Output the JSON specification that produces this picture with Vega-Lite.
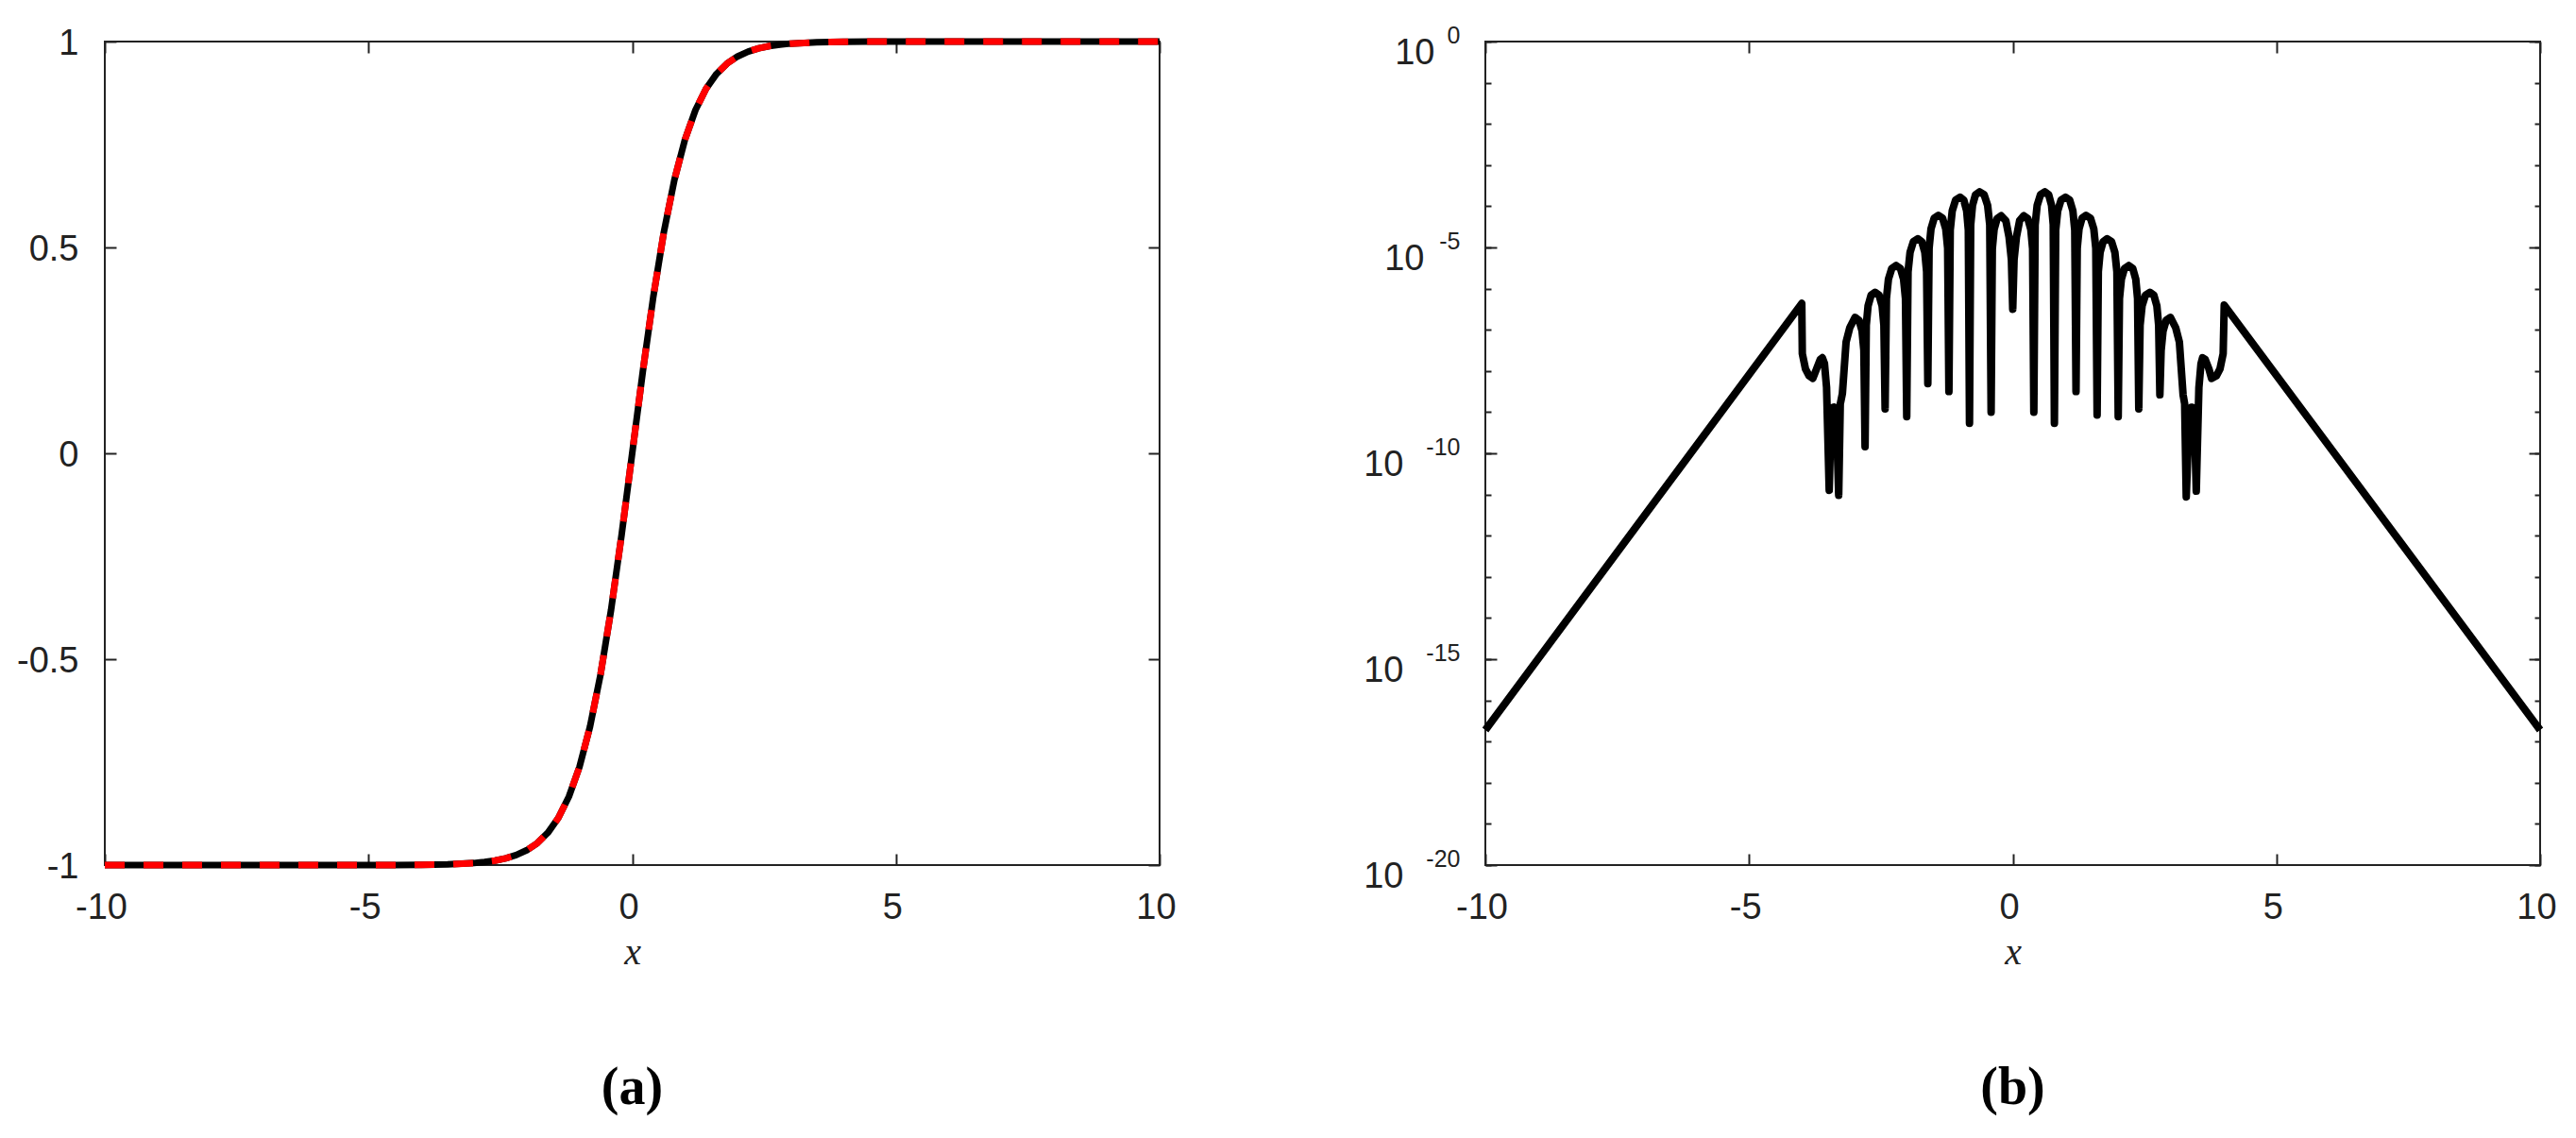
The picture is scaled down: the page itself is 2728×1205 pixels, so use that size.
{
  "$schema": "https://vega.github.io/schema/vega-lite/v6.json",
  "background": "white",
  "padding": {"left": 16, "top": 24, "right": 0, "bottom": 0},
  "bounds": "flush",
  "spacing": 345,
  "config": {
    "view": {"stroke": "#222222", "strokeWidth": 2},
    "axis": {
      "domain": false, "grid": false, "tickColor": "#222222", "tickWidth": 2,
      "labelColor": "#222222", "labelFont": "Liberation Sans", "labelFontSize": 38,
      "labelFlush": false, "labelOverlap": false, "labelBound": false,
      "titleColor": "#222222"
    }
  },
  "datasets": {
    "left": [
      {"x": -10, "y": -1.0}, {"x": -8, "y": -1.0}, {"x": -6, "y": -1.0}, {"x": -5, "y": -0.9999},
      {"x": -4.5, "y": -0.9998}, {"x": -4, "y": -0.9993}, {"x": -3.5, "y": -0.9982}, {"x": -3, "y": -0.9951},
      {"x": -2.8, "y": -0.9926}, {"x": -2.6, "y": -0.989}, {"x": -2.4, "y": -0.9837}, {"x": -2.2, "y": -0.9757},
      {"x": -2, "y": -0.964}, {"x": -1.8, "y": -0.9468}, {"x": -1.6, "y": -0.9217}, {"x": -1.4, "y": -0.8854},
      {"x": -1.2, "y": -0.8337}, {"x": -1, "y": -0.7616}, {"x": -0.8, "y": -0.664}, {"x": -0.6, "y": -0.537},
      {"x": -0.4, "y": -0.3799}, {"x": -0.2, "y": -0.1974}, {"x": 0, "y": 0},
      {"x": 0.2, "y": 0.1974}, {"x": 0.4, "y": 0.3799}, {"x": 0.6, "y": 0.537}, {"x": 0.8, "y": 0.664},
      {"x": 1, "y": 0.7616}, {"x": 1.2, "y": 0.8337}, {"x": 1.4, "y": 0.8854}, {"x": 1.6, "y": 0.9217},
      {"x": 1.8, "y": 0.9468}, {"x": 2, "y": 0.964}, {"x": 2.2, "y": 0.9757}, {"x": 2.4, "y": 0.9837},
      {"x": 2.6, "y": 0.989}, {"x": 2.8, "y": 0.9926}, {"x": 3, "y": 0.9951}, {"x": 3.5, "y": 0.9982},
      {"x": 4, "y": 0.9993}, {"x": 4.5, "y": 0.9998}, {"x": 5, "y": 0.9999}, {"x": 6, "y": 1.0},
      {"x": 8, "y": 1.0}, {"x": 10, "y": 1.0}
    ],
    "right": [
      {"x": -10, "err": 1.905e-17}, {"x": -4.0, "err": 4.365e-7}, {"x": -3.99, "err": 2.630e-8},
      {"x": -3.93, "err": 1.122e-8}, {"x": -3.86, "err": 7.586e-9}, {"x": -3.79, "err": 6.607e-9},
      {"x": -3.72, "err": 1.122e-8}, {"x": -3.65, "err": 1.905e-8}, {"x": -3.61, "err": 2.089e-8},
      {"x": -3.57, "err": 1.514e-8}, {"x": -3.53, "err": 3.981e-9}, {"x": -3.48, "err": 1.259e-11},
      {"x": -3.44, "err": 1.259e-9}, {"x": -3.39, "err": 1.318e-9}, {"x": -3.34, "err": 5.012e-10},
      {"x": -3.30, "err": 9.550e-12}, {"x": -3.27, "err": 1.585e-9}, {"x": -3.23, "err": 2.818e-9},
      {"x": -3.16, "err": 5.012e-8}, {"x": -3.09, "err": 1.122e-7}, {"x": -2.99, "err": 1.995e-7},
      {"x": -2.914, "err": 1.698e-7}, {"x": -2.857, "err": 9.333e-8}, {"x": -2.823, "err": 3.162e-8},
      {"x": -2.80, "err": 1.445e-10},
      {"x": -2.777, "err": 1.288e-7}, {"x": -2.743, "err": 3.802e-7}, {"x": -2.686, "err": 6.918e-7},
      {"x": -2.61, "err": 8.128e-7}, {"x": -2.534, "err": 6.918e-7}, {"x": -2.477, "err": 3.802e-7},
      {"x": -2.443, "err": 1.288e-7}, {"x": -2.42, "err": 1.202e-9},
      {"x": -2.395, "err": 5.754e-7}, {"x": -2.357, "err": 1.698e-6}, {"x": -2.294, "err": 3.090e-6},
      {"x": -2.21, "err": 3.631e-6}, {"x": -2.13, "err": 3.090e-6}, {"x": -2.07, "err": 1.698e-6},
      {"x": -2.034, "err": 5.754e-7}, {"x": -2.01, "err": 7.762e-10},
      {"x": -1.985, "err": 2.570e-6}, {"x": -1.947, "err": 7.586e-6}, {"x": -1.884, "err": 1.380e-5},
      {"x": -1.80, "err": 1.622e-5}, {"x": -1.724, "err": 1.380e-5}, {"x": -1.667, "err": 7.586e-6},
      {"x": -1.633, "err": 2.570e-6}, {"x": -1.61, "err": 4.898e-9},
      {"x": -1.586, "err": 9.550e-6}, {"x": -1.55, "err": 2.818e-5}, {"x": -1.49, "err": 5.129e-5},
      {"x": -1.41, "err": 6.026e-5}, {"x": -1.33, "err": 5.129e-5}, {"x": -1.27, "err": 2.818e-5},
      {"x": -1.234, "err": 9.550e-6}, {"x": -1.21, "err": 3.162e-9},
      {"x": -1.185, "err": 2.630e-5}, {"x": -1.147, "err": 7.762e-5}, {"x": -1.084, "err": 1.413e-4},
      {"x": -1.00, "err": 1.660e-4}, {"x": -0.928, "err": 1.413e-4}, {"x": -0.874, "err": 7.762e-5},
      {"x": -0.842, "err": 2.630e-5}, {"x": -0.82, "err": 5.370e-10},
      {"x": -0.797, "err": 3.548e-5}, {"x": -0.763, "err": 1.047e-4}, {"x": -0.706, "err": 1.905e-4},
      {"x": -0.63, "err": 2.239e-4}, {"x": -0.542, "err": 1.905e-4}, {"x": -0.476, "err": 1.047e-4},
      {"x": -0.436, "err": 3.548e-5}, {"x": -0.41, "err": 1.0e-9},
      {"x": -0.387, "err": 9.333e-6}, {"x": -0.353, "err": 2.754e-5}, {"x": -0.296, "err": 5.012e-5},
      {"x": -0.22, "err": 5.888e-5}, {"x": -0.13, "err": 4.467e-5}, {"x": -0.07, "err": 1.778e-5},
      {"x": -0.025, "err": 5.012e-6}, {"x": 0, "err": 3.162e-7},
      {"x": 0.025, "err": 5.012e-6}, {"x": 0.07, "err": 1.778e-5}, {"x": 0.13, "err": 4.467e-5},
      {"x": 0.21, "err": 5.888e-5}, {"x": 0.286, "err": 5.012e-5}, {"x": 0.343, "err": 2.754e-5},
      {"x": 0.377, "err": 9.333e-6}, {"x": 0.40, "err": 1.0e-9},
      {"x": 0.425, "err": 3.548e-5}, {"x": 0.463, "err": 1.047e-4}, {"x": 0.526, "err": 1.905e-4},
      {"x": 0.61, "err": 2.239e-4}, {"x": 0.682, "err": 1.905e-4}, {"x": 0.736, "err": 1.047e-4},
      {"x": 0.768, "err": 3.548e-5}, {"x": 0.79, "err": 5.370e-10},
      {"x": 0.815, "err": 2.630e-5}, {"x": 0.853, "err": 7.762e-5}, {"x": 0.916, "err": 1.413e-4},
      {"x": 1.00, "err": 1.660e-4}, {"x": 1.08, "err": 1.413e-4}, {"x": 1.14, "err": 7.762e-5},
      {"x": 1.176, "err": 2.630e-5}, {"x": 1.20, "err": 3.162e-9},
      {"x": 1.223, "err": 9.550e-6}, {"x": 1.257, "err": 2.818e-5}, {"x": 1.314, "err": 5.129e-5},
      {"x": 1.39, "err": 6.026e-5}, {"x": 1.474, "err": 5.129e-5}, {"x": 1.537, "err": 2.818e-5},
      {"x": 1.575, "err": 9.550e-6}, {"x": 1.60, "err": 8.511e-10},
      {"x": 1.623, "err": 2.570e-6}, {"x": 1.657, "err": 7.586e-6}, {"x": 1.714, "err": 1.380e-5},
      {"x": 1.79, "err": 1.622e-5}, {"x": 1.874, "err": 1.380e-5}, {"x": 1.937, "err": 7.586e-6},
      {"x": 1.975, "err": 2.570e-6}, {"x": 2.00, "err": 7.762e-10},
      {"x": 2.024, "err": 5.754e-7}, {"x": 2.06, "err": 1.698e-6}, {"x": 2.12, "err": 3.090e-6},
      {"x": 2.20, "err": 3.631e-6}, {"x": 2.276, "err": 3.090e-6}, {"x": 2.333, "err": 1.698e-6},
      {"x": 2.367, "err": 5.754e-7}, {"x": 2.39, "err": 1.202e-9},
      {"x": 2.415, "err": 1.288e-7}, {"x": 2.453, "err": 3.802e-7}, {"x": 2.516, "err": 6.918e-7},
      {"x": 2.60, "err": 8.128e-7}, {"x": 2.676, "err": 6.918e-7}, {"x": 2.733, "err": 3.802e-7},
      {"x": 2.767, "err": 1.288e-7}, {"x": 2.79, "err": 2.630e-9},
      {"x": 2.814, "err": 3.162e-8}, {"x": 2.85, "err": 9.333e-8}, {"x": 2.91, "err": 1.698e-7},
      {"x": 2.99, "err": 1.995e-7}, {"x": 3.09, "err": 1.122e-7}, {"x": 3.16, "err": 5.012e-8},
      {"x": 3.23, "err": 2.630e-9}, {"x": 3.26, "err": 1.585e-9}, {"x": 3.29, "err": 8.710e-12},
      {"x": 3.34, "err": 5.012e-10}, {"x": 3.39, "err": 1.318e-9}, {"x": 3.44, "err": 1.259e-9},
      {"x": 3.48, "err": 1.202e-11}, {"x": 3.53, "err": 3.981e-9}, {"x": 3.57, "err": 1.514e-8},
      {"x": 3.60, "err": 2.089e-8}, {"x": 3.65, "err": 1.905e-8}, {"x": 3.72, "err": 1.122e-8},
      {"x": 3.77, "err": 6.607e-9}, {"x": 3.86, "err": 7.586e-9}, {"x": 3.93, "err": 1.122e-8},
      {"x": 3.99, "err": 2.630e-8}, {"x": 4.01, "err": 3.981e-7}, {"x": 10, "err": 1.905e-17}
    ]
  },
  "hconcat": [
    {
      "width": 1117, "height": 872,
      "title": {"text": "(a)", "orient": "bottom", "anchor": "middle", "font": "Liberation Serif", "fontSize": 56, "fontWeight": "bold", "color": "black", "baseline": "alphabetic", "offset": 140},
      "data": {"name": "left"},
      "layer": [
        {
          "mark": {"type": "line", "color": "black", "strokeWidth": 7, "strokeCap": "butt", "strokeJoin": "round", "clip": false},
          "encoding": {
            "x": {"field": "x", "type": "quantitative", "scale": {"domain": [-10, 10], "nice": false},
              "axis": {"orient": "bottom", "values": [-10, -5, 0, 5, 10], "tickSize": -12, "labelPadding": 68.7, "labelBaseline": "alphabetic", "labelOffset": -4,
                "labelExpr": "datum.value < 0 ? '-' + abs(datum.value) : '' + datum.value",
                "title": "x", "titleFont": "Liberation Serif", "titleFontStyle": "italic", "titleFontWeight": "normal", "titleFontSize": 40, "titlePadding": 8}},
            "y": {"field": "y", "type": "quantitative", "scale": {"domain": [-1, 1], "nice": false},
              "axis": {"orient": "left", "values": [-1, -0.5, 0, 0.5, 1], "tickSize": -12, "labelPadding": 40, "labelBaseline": "middle", "labelOffset": 2,
                "labelExpr": "datum.value < 0 ? '-' + abs(datum.value) : '' + datum.value", "title": null}}
          }
        },
        {
          "mark": {"type": "line", "color": "#ff0000", "strokeWidth": 7, "strokeDash": [21, 20], "strokeCap": "butt", "clip": false},
          "encoding": {
            "x": {"field": "x", "type": "quantitative", "scale": {"domain": [-10, 10], "nice": false},
              "axis": {"orient": "top", "values": [-10, -5, 0, 5, 10], "tickSize": -12, "labels": false, "title": null}},
            "y": {"field": "y", "type": "quantitative", "scale": {"domain": [-1, 1], "nice": false},
              "axis": {"orient": "right", "values": [-1, -0.5, 0, 0.5, 1], "tickSize": -12, "labels": false, "title": null}}
          }
        }
      ],
      "resolve": {"axis": {"x": "independent", "y": "independent"}}
    },
    {
      "width": 1117, "height": 872,
      "title": {"text": "(b)", "orient": "bottom", "anchor": "middle", "font": "Liberation Serif", "fontSize": 56, "fontWeight": "bold", "color": "black", "baseline": "alphabetic", "offset": 140},
      "data": {"name": "right"},
      "layer": [
        {
          "mark": {"type": "line", "color": "black", "strokeWidth": 8, "strokeCap": "butt", "strokeJoin": "round", "clip": false},
          "encoding": {
            "x": {"field": "x", "type": "quantitative", "scale": {"domain": [-10, 10], "nice": false},
              "axis": {"orient": "bottom", "values": [-10, -5, 0, 5, 10], "tickSize": -12, "labelPadding": 68.7, "labelBaseline": "alphabetic", "labelOffset": -4,
                "labelExpr": "datum.value < 0 ? '-' + abs(datum.value) : '' + datum.value",
                "title": "x", "titleFont": "Liberation Serif", "titleFontStyle": "italic", "titleFontWeight": "normal", "titleFontSize": 40, "titlePadding": 8}},
            "y": {"field": "err", "type": "quantitative", "scale": {"type": "log", "domain": [1e-20, 1], "nice": false},
              "axis": {"orient": "left", "values": [1], "tickSize": -12, "labelPadding": 66, "labelAlign": "right", "labelBaseline": "alphabetic", "labelOffset": 23,
                "labelExpr": "'10'", "title": null}}
          }
        },
        {
          "mark": {"type": "line", "strokeOpacity": 0, "clip": false},
          "encoding": {
            "x": {"field": "x", "type": "quantitative", "scale": {"domain": [-10, 10], "nice": false}, "axis": null},
            "y": {"field": "err", "type": "quantitative", "scale": {"type": "log", "domain": [1e-20, 1], "nice": false},
              "axis": {"orient": "left", "values": [1e-5], "tickSize": -12, "labelPadding": 77, "labelAlign": "right", "labelBaseline": "alphabetic", "labelOffset": 23,
                "labelExpr": "'10'", "title": null}}
          }
        },
        {
          "mark": {"type": "line", "strokeOpacity": 0, "clip": false},
          "encoding": {
            "x": {"field": "x", "type": "quantitative", "scale": {"domain": [-10, 10], "nice": false}, "axis": null},
            "y": {"field": "err", "type": "quantitative", "scale": {"type": "log", "domain": [1e-20, 1], "nice": false},
              "axis": {"orient": "left", "values": [1e-10, 1e-15, 1e-20], "tickSize": -12, "labelPadding": 99, "labelAlign": "right", "labelBaseline": "alphabetic", "labelOffset": 23,
                "labelExpr": "'10'", "title": null}}
          }
        },
        {
          "mark": {"type": "line", "strokeOpacity": 0, "clip": false},
          "encoding": {
            "x": {"field": "x", "type": "quantitative", "scale": {"domain": [-10, 10], "nice": false}, "axis": null},
            "y": {"field": "err", "type": "quantitative", "scale": {"type": "log", "domain": [1e-20, 1], "nice": false},
              "axis": {"orient": "left", "values": [1, 1e-1, 1e-2, 1e-3, 1e-4, 1e-5, 1e-6, 1e-7, 1e-8, 1e-9, 1e-10, 1e-11, 1e-12, 1e-13, 1e-14, 1e-15, 1e-16, 1e-17, 1e-18, 1e-19, 1e-20],
                "tickSize": -6, "labelPadding": 33, "labelAlign": "right", "labelBaseline": "alphabetic", "labelOffset": 1, "labelFontSize": 25,
                "labelExpr": "abs(round(log(datum.value)/LN10)) % 5 == 0 ? ((round(log(datum.value)/LN10) < 0 ? '-' : '') + abs(round(log(datum.value)/LN10))) : ''", "title": null}}
          }
        },
        {
          "mark": {"type": "line", "strokeOpacity": 0, "clip": false},
          "encoding": {
            "x": {"field": "x", "type": "quantitative", "scale": {"domain": [-10, 10], "nice": false},
              "axis": {"orient": "top", "values": [-10, -5, 0, 5, 10], "tickSize": -12, "labels": false, "title": null}},
            "y": {"field": "err", "type": "quantitative", "scale": {"type": "log", "domain": [1e-20, 1], "nice": false},
              "axis": {"orient": "right", "values": [1, 1e-1, 1e-2, 1e-3, 1e-4, 1e-5, 1e-6, 1e-7, 1e-8, 1e-9, 1e-10, 1e-11, 1e-12, 1e-13, 1e-14, 1e-15, 1e-16, 1e-17, 1e-18, 1e-19, 1e-20],
                "tickSize": -6, "labels": false, "title": null}}
          }
        },
        {
          "mark": {"type": "line", "strokeOpacity": 0, "clip": false},
          "encoding": {
            "x": {"field": "x", "type": "quantitative", "scale": {"domain": [-10, 10], "nice": false}, "axis": null},
            "y": {"field": "err", "type": "quantitative", "scale": {"type": "log", "domain": [1e-20, 1], "nice": false},
              "axis": {"orient": "right", "values": [1, 1e-5, 1e-10, 1e-15, 1e-20], "tickSize": -12, "labels": false, "title": null}}
          }
        }
      ],
      "resolve": {"axis": {"x": "independent", "y": "independent"}}
    }
  ]
}
